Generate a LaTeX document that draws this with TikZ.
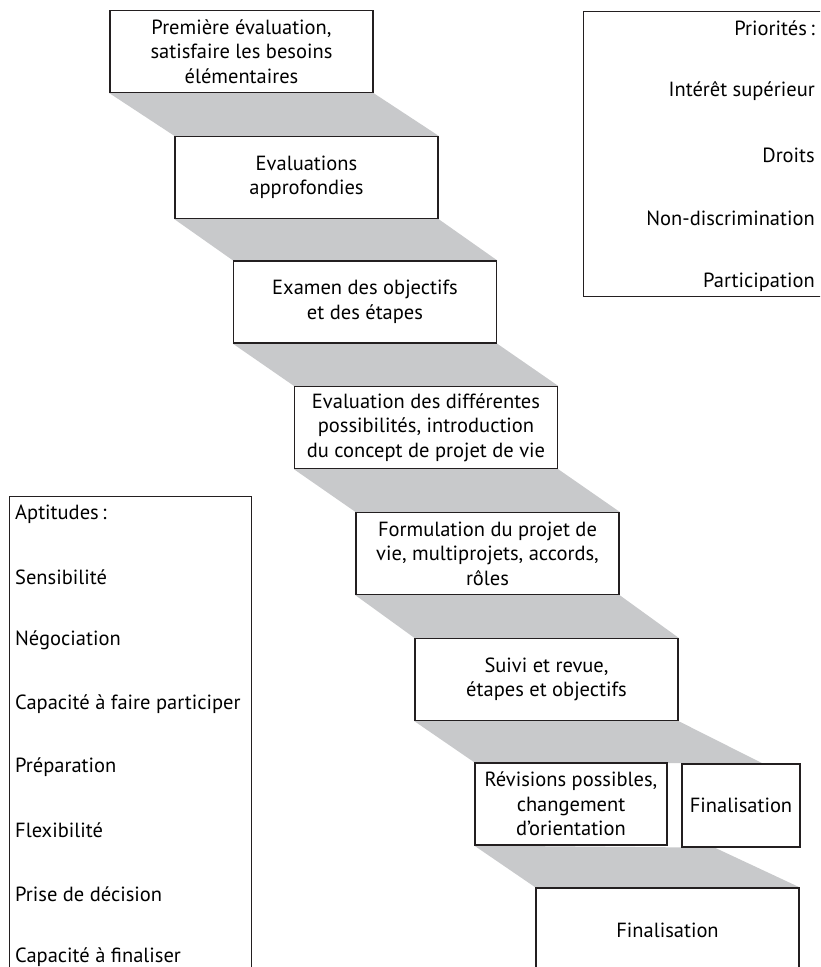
\documentclass[tikz,border=0pt]{standalone}
\usepackage{fontspec}
\setmainfont{PT Sans}
\usetikzlibrary{positioning,calc,backgrounds}
\definecolor{sgray}{RGB}{200,201,203}
\definecolor{dline}{RGB}{35,31,32}

\begin{document}
\begin{tikzpicture}[x=1pt,y=-1pt,font=\fontsize{20.5}{24.5}\selectfont,
    stepbox/.style={draw=dline,line width=1.3pt,fill=white,align=center,
      minimum width=263pt,minimum height=82pt,inner sep=2pt},
    listbox/.style={draw=dline,line width=1.3pt,anchor=north west},
    stair/.style={fill=sgray}]
  \useasboundingbox (0,0) rectangle (820,967);
  \clip (0,0) rectangle (820,967);
  % les etapes
  \node[stepbox] (s1) at (241.5,51.5) {Première évaluation,\\satisfaire les besoins\\élémentaires};
  \node[stepbox] (s2) at (306.5,177.5) {Evaluations\\approfondies};
  \node[stepbox] (s3) at (365,302) {Examen des objectifs\\et des étapes};
  \node[stepbox] (s4) at (426,427.5) {Evaluation des différentes\\possibilités, introduction\\du concept de projet de vie};
  \node[stepbox] (s5) at (487.5,553.5) {Formulation du projet de\\vie, multiprojets, accords,\\rôles};
  \node[stepbox] (s6) at (546.5,679.5) {Suivi et revue,\\étapes et objectifs};
  \node[stepbox,minimum width=192pt] (rev) at (571,804) {Révisions possibles,\\changement\\d’orientation};
  \node[stepbox,minimum width=118pt,minimum height=83pt] (fin) at (741,805.5) {Finalisation};
  \node[stepbox,minimum height=84pt] (s8) at (667.5,930) {Finalisation};
  % les marches
  \begin{scope}[on background layer]
    \foreach \a/\b in {s1/s2,s2/s3,s3/s4,s4/s5,s5/s6}
      \fill[stair] (\a.south west) -- (\a.south east) -- (\b.north east) -- (\b.north west) -- cycle;
    \fill[stair] (s6.south west) -- (s6.south east) -- ($(fin.north west)!0.68!(fin.north east)$) -- (rev.north west) -- cycle;
    \fill[stair] (rev.south west) -- ($(fin.south west)!0.28!(fin.south east)$) -- (s8.north east) -- (s8.north west) -- cycle;
  \end{scope}
  % priorites
  \node[listbox,minimum width=260pt,minimum height=285pt] (prio) at (583,11) {};
  \foreach \t [count=\i from 0] in {Priorités\,:,Intérêt supérieur,Droits,Non-discrimination,Participation}
    \node[anchor=east,inner sep=0pt] (p\i) at (815,28+63.5*\i) {\t};
  % aptitudes
  \node[listbox,minimum width=242pt,minimum height=490pt] (apt) at (9,496) {};
  \foreach \t [count=\i from 0] in {Aptitudes\,:,Sensibilité,Négociation,Capacité à faire participer,Préparation,Flexibilité,Prise de décision,Capacité à finaliser}
    \node[anchor=west,inner sep=0pt] (a\i) at (15,514+63.3*\i) {\t};
\end{tikzpicture}
\end{document}
